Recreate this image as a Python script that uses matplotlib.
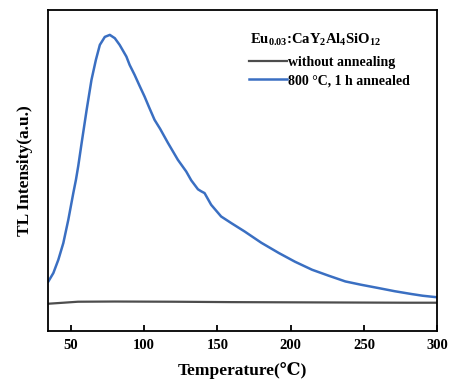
import matplotlib.pyplot as plt
import numpy as np

plt.rcParams['font.family'] = ['Liberation Serif', 'DejaVu Serif']
plt.rcParams['font.weight'] = 'bold'
plt.rcParams['axes.labelweight'] = 'bold'
plt.rcParams['mathtext.fontset'] = 'custom'
plt.rcParams['mathtext.rm'] = 'Liberation Serif:bold'
plt.rcParams['mathtext.it'] = 'Liberation Serif:bold'

# annealed sample (800 C, 1 h)
temp_annealed = [34.8, 38.2, 41.6, 45.0, 48.4, 51.8, 53.6, 55.2, 57.5, 60.9,
                 64.2, 67.2, 69.9, 73.3, 76.7, 80.1, 83.4, 88.0, 90.2, 93.6,
                 97.0, 100.4, 103.5, 107.2, 111.0, 116.3, 123.1, 128.8, 132.2,
                 136.8, 139.0, 141.3, 145.8, 152.6, 159.5, 168.6, 180.0, 192.0,
                 203.0, 214.6, 226.0, 237.3, 248.0, 259.8, 271.0, 282.4, 290.0,
                 298.3, 300.0]
tl_annealed = [49.3, 57.7, 71.0, 87.7, 111.0, 137.7, 151.0, 165.0, 188.0, 221.0,
               251.0, 271.0, 286.0, 294.0, 296.0, 292.7, 286.0, 274.3, 266.0, 256.0,
               245.0, 234.3, 223.5, 211.0, 202.0, 188.0, 171.0, 159.3, 150.5,
               141.5, 139.5, 137.7, 126.0, 114.3, 107.7, 99.3, 88.0, 77.7,
               69.0, 61.0, 55.0, 49.3, 46.0, 42.7, 39.5, 36.7, 35.0,
               33.7, 33.5]

# as-prepared sample (no annealing)
temp_raw = [34.8, 45.0, 55.0, 80.0, 120.0, 160.0, 200.0, 240.0, 280.0, 300.0]
tl_raw = [27.0, 28.0, 29.0, 29.2, 29.0, 28.6, 28.4, 28.2, 28.0, 28.0]

fig = plt.figure(figsize=(4.52, 3.81), dpi=100)
ax = fig.add_axes([0.107, 0.132, 0.8605, 0.842])

l1, = ax.plot(temp_raw, tl_raw, color='#4d4d4d', lw=1.6)
l2, = ax.plot(temp_annealed, tl_annealed, color='#3a6fc2', lw=1.8)

ax.set_xlim(34.8, 300)
ax.set_ylim(0, 321)
ax.set_xticks([50, 100, 150, 200, 250, 300])
ax.set_yticks([])
ax.tick_params(axis='x', direction='in', length=4, width=1.3, labelsize=10.5, pad=6)
for s in ax.spines.values():
    s.set_linewidth(1.3)

ax.set_xlabel('Temperature(\u2103)', fontsize=12.5, labelpad=7)
ax.set_ylabel('TL Intensity(a.u.)', fontsize=12.5, labelpad=11)

ax.text(0.519, 0.905, r'Eu$_{0.03}$:CaY$_2$Al$_4$SiO$_{12}$', transform=ax.transAxes,
        fontsize=10.5, fontweight='bold', ha='left', va='center')
ax.legend([l1, l2], ['without annealing', '800 \u00b0C, 1 h annealed'],
          frameon=False, fontsize=10, handlelength=2.7, handletextpad=0.1,
          loc='upper left', bbox_to_anchor=(0.517, 0.857),
          labelspacing=0.4, borderaxespad=0, borderpad=0)

fig.savefig('out.png', dpi=100)
